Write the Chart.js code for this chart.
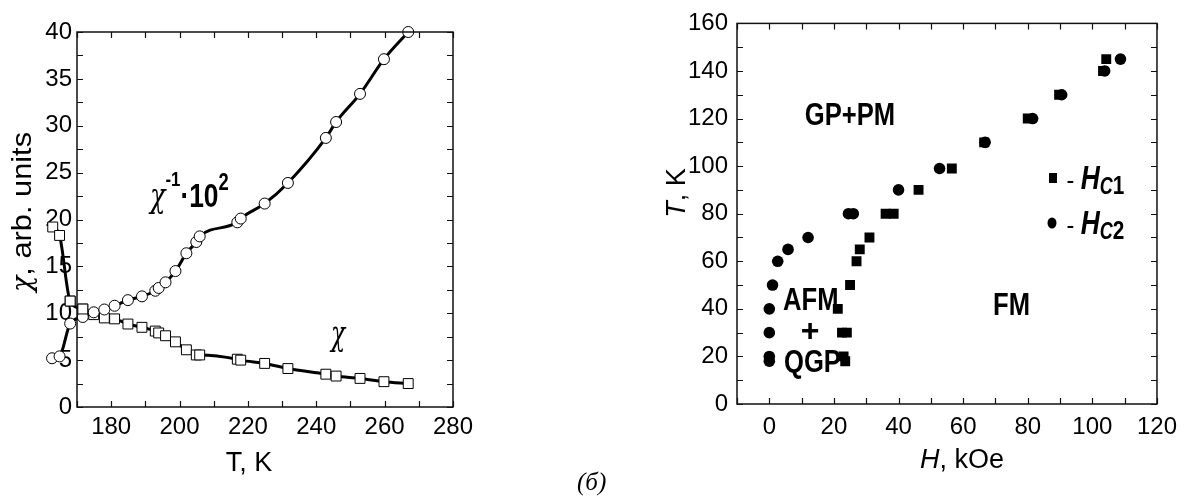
<!DOCTYPE html>
<html>
<head>
<meta charset="utf-8">
<script src="https://cdn.jsdelivr.net/npm/chart.js@4.4.1/dist/chart.umd.min.js"></script>
<style>
  body { margin: 0; background: #fff; width: 1186px; height: 500px; overflow: hidden; position: relative; }
  #left { position: absolute; left: 0; top: 0; }
  #right { position: absolute; left: 600px; top: 0; }
  #cap { position: absolute; left: 577px; top: 468px; font: italic 25px 'Liberation Serif', serif; color: #000; }
</style>
</head>
<body>
<canvas id="left" width="480" height="500"></canvas>
<canvas id="right" width="586" height="500"></canvas>
<div id="cap">(б)</div>
<script>
// левый график: chi^-1*10^2 (кружки) и chi (квадраты) от T
const invT = [162.7, 164.9, 168.0, 171.7, 174.9, 178.0, 181.0, 184.9, 189.0, 192.9, 193.9, 195.9, 198.8, 202.0, 204.9, 205.9, 216.9, 217.9, 224.9, 231.7, 242.8, 245.8, 252.8, 259.8, 266.9];
const invV = [5.2, 5.4, 8.9, 9.6, 10.1, 10.4, 10.8, 11.4, 11.8, 12.4, 12.7, 13.3, 14.5, 16.4, 17.6, 18.2, 19.7, 20.1, 21.7, 23.9, 28.7, 30.4, 33.4, 37.1, 40.0];
const chiT = [162.9, 164.9, 168.0, 171.7, 174.9, 178.0, 181.0, 184.9, 189.0, 192.9, 193.9, 195.9, 198.8, 202.0, 204.9, 205.9, 216.9, 217.9, 224.9, 231.7, 242.8, 245.8, 252.8, 259.8, 266.9];
const chiV = [19.2, 18.3, 11.3, 10.45, 9.85, 9.5, 9.4, 8.85, 8.5, 8.1, 7.9, 7.6, 6.95, 6.1, 5.55, 5.55, 5.1, 5.0, 4.65, 4.1, 3.5, 3.3, 3.05, 2.7, 2.5];

// правый график: фазовая диаграмма T(H)
const hc1H = [21.2, 22.5, 24.0, 23.0, 23.5, 25.0, 27.0, 28.0, 31.0, 36.0, 38.5, 46.2, 56.5, 66.5, 80.0, 89.7, 103.3, 104.3];
const hc1T = [40, 30, 30, 20, 18, 50, 60, 65, 70, 80, 80, 90, 99, 110, 120, 130, 140, 145];
const hc2H = [1.0, 0, 0, 0, 0, 2.6, 5.8, 12.0, 24.5, 26.0, 40.0, 52.7, 66.8, 81.5, 90.5, 103.8, 108.7];
const hc2T = [50, 40, 30, 20, 18, 60, 65, 70, 80, 80, 90, 99, 110, 120, 130, 140, 145];

// подписи осей
const leftXTicks = [180, 200, 220, 240, 260, 280];
const leftYTicks = [0, 5, 10, 15, 20, 25, 30, 35, 40];
const rightXTicks = [0, 20, 40, 60, 80, 100, 120];
const rightYTicks = [0, 20, 40, 60, 80, 100, 120, 140, 160];

const NARROW = "'Liberation Sans Narrow', 'Arial Narrow', 'Liberation Sans', Arial, sans-serif";
const SANS = "'Liberation Sans', Arial, sans-serif";
const CHI = "'DejaVu Serif', 'Liberation Serif', serif";

const pts = (xs, ys) => xs.map((x, i) => ({ x: x, y: ys[i] }));

// рамка и внутренние штрихи
const frameTicks = {
  id: 'frameTicks',
  afterDatasetsDraw(chart, args, o) {
    const { ctx, chartArea: a, scales: { x, y } } = chart;
    ctx.save();
    ctx.strokeStyle = '#111';
    ctx.lineWidth = 1.5;
    ctx.strokeRect(a.left, a.top, a.right - a.left, a.bottom - a.top);
    ctx.lineWidth = 1.2;
    ctx.beginPath();
    for (let v = x.min; v <= x.max + 1e-9; v += o.xStep) {
      const p = Math.round(x.getPixelForValue(v)) + 0.5;
      ctx.moveTo(p, a.bottom); ctx.lineTo(p, a.bottom - o.len);
      ctx.moveTo(p, a.top); ctx.lineTo(p, a.top + o.len);
    }
    for (let v = y.min; v <= y.max + 1e-9; v += o.yStep) {
      const p = Math.round(y.getPixelForValue(v)) + 0.5;
      ctx.moveTo(a.left, p); ctx.lineTo(a.left + o.len, p);
      ctx.moveTo(a.right, p); ctx.lineTo(a.right - o.len, p);
    }
    ctx.stroke();
    ctx.restore();

    // точки левее оси: Chart.js их пропускает, дорисовываем сами элементы
    chart.data.datasets.forEach((ds, i) => {
      chart.getDatasetMeta(i).data.forEach(el => {
        if (el.x < a.left + el.options.radius) el.draw(ctx);
      });
    });
  }
};

// строка из кусков разного шрифта (sx - сжатие по ширине)
function rich(ctx, parts, x, y, align, rot) {
  ctx.save();
  ctx.translate(x, y);
  if (rot) ctx.rotate(rot);
  let w = 0;
  parts.forEach(p => { ctx.font = p.f; w += ctx.measureText(p.t).width * (p.sx || 1); });
  let cx = align === 'center' ? -w / 2 : 0;
  ctx.fillStyle = '#000';
  ctx.textBaseline = 'alphabetic';
  parts.forEach(p => {
    ctx.font = p.f;
    const sx = p.sx || 1;
    ctx.save();
    ctx.translate(cx, p.dy || 0);
    ctx.scale(sx, 1);
    ctx.fillText(p.t, 0, 0);
    ctx.restore();
    cx += ctx.measureText(p.t).width * sx;
  });
  ctx.restore();
}

const labels = {
  id: 'labels',
  afterDraw(chart, args, o) {
    o.draw(chart.ctx);
  }
};

// min/max задаются после подсчёта данных, чтобы точки за осью не отбрасывались
function axis(ticks, min, max, fit, pad) {
  return {
    type: 'linear', bounds: 'data',
    grid: { display: false, drawTicks: false }, border: { display: false },
    afterDataLimits: s => { s.min = min; s.max = max; },
    afterBuildTicks: s => { s.ticks = ticks.map(v => ({ value: v })); s.min = min; s.max = max; },
    afterFit: fit,
    ticks: { color: '#000', padding: pad, autoSkip: false, maxRotation: 0, font: { family: NARROW, size: 24 } }
  };
}

new Chart(document.getElementById('left'), {
  type: 'scatter',
  data: {
    datasets: [{
      label: 'chi^-1',
      data: pts(invT, invV),
      showLine: true, borderColor: '#000', borderWidth: 3,
      cubicInterpolationMode: 'monotone',
      pointStyle: 'circle', pointRadius: 5.5,
      pointBackgroundColor: '#fff', pointBorderColor: '#000', pointBorderWidth: 1,
      clip: false
    }, {
      label: 'chi',
      data: pts(chiT, chiV),
      showLine: true, borderColor: '#000', borderWidth: 3,
      cubicInterpolationMode: 'monotone',
      pointStyle: 'rect', pointRadius: 7,
      pointBackgroundColor: '#fff', pointBorderColor: '#000', pointBorderWidth: 1,
      clip: false
    }]
  },
  options: {
    responsive: false, animation: false,
    layout: { padding: { top: 32, right: 27, left: 0, bottom: 0 } },
    plugins: {
      legend: { display: false }, tooltip: { enabled: false },
      frameTicks: { xStep: 10, yStep: 2.5, len: 6 },
      labels: {
        draw(ctx) {
          rich(ctx, [
            { t: 'χ', f: 'italic 34px ' + CHI, sx: 0.75 },
            { t: '-1', f: 'bold 21px ' + SANS, dy: -21, sx: 0.8 },
            { t: '·10', f: 'bold 33px ' + SANS, sx: 0.8 },
            { t: '2', f: 'bold 23px ' + SANS, dy: -17, sx: 0.8 }
          ], 150, 207, 'left');
          rich(ctx, [{ t: 'χ', f: 'italic 36px ' + CHI, sx: 0.65 }], 331, 345, 'left');
          rich(ctx, [
            { t: 'χ', f: 'italic 27px ' + CHI, sx: 1.0 },
            { t: ', arb. units', f: '28px ' + SANS, sx: 1.1 }
          ], 31, 212, 'center', -Math.PI / 2);
          rich(ctx, [{ t: 'T, K', f: '27px ' + SANS }], 249, 471, 'center');
        }
      }
    },
    scales: {
      x: axis(leftXTicks, 170, 280, s => { s.height = 93; }, 6),
      y: axis(leftYTicks, 0, 40, s => { s.width = 77; }, 5)
    }
  },
  plugins: [frameTicks, labels]
});

new Chart(document.getElementById('right'), {
  type: 'scatter',
  data: {
    datasets: [{
      label: 'Hc1',
      data: pts(hc1H, hc1T),
      pointStyle: 'rect', pointRadius: 7,
      pointBackgroundColor: '#000', pointBorderColor: '#000', pointBorderWidth: 0
    }, {
      label: 'Hc2',
      data: pts(hc2H, hc2T),
      pointStyle: 'circle', pointRadius: 5.8,
      pointBackgroundColor: '#000', pointBorderColor: '#000', pointBorderWidth: 0
    }]
  },
  options: {
    responsive: false, animation: false,
    layout: { padding: { top: 20, right: 19, left: 0, bottom: 0 } },
    plugins: {
      legend: { display: false }, tooltip: { enabled: false },
      frameTicks: { xStep: 10, yStep: 10, len: 6 },
      labels: {
        draw(ctx) {
          const B = 'bold 32px ' + SANS;
          rich(ctx, [{ t: 'GP+PM', f: B, sx: 0.8 }], 250, 125, 'center');
          rich(ctx, [{ t: 'AFM', f: B, sx: 0.8 }], 183, 310, 'left');
          rich(ctx, [{ t: '+', f: B }], 210, 341, 'center');
          rich(ctx, [{ t: 'QGP', f: B, sx: 0.8 }], 184, 372, 'left');
          rich(ctx, [{ t: 'FM', f: B, sx: 0.8 }], 393, 315, 'left');
          // легенда
          ctx.fillStyle = '#000';
          ctx.fillRect(449, 173, 8, 10);
          ctx.beginPath(); ctx.ellipse(452, 223, 4.5, 5.5, 0, 0, Math.PI * 2); ctx.fill();
          const legend = n => [
            { t: ' - ', f: '26px ' + SANS, sx: 0.9 },
            { t: 'H', f: 'italic bold 33px ' + SANS, sx: 0.8 },
            { t: 'C', f: 'italic bold 24px ' + SANS, dy: 5, sx: 0.75 },
            { t: n, f: 'bold 26px ' + SANS, dy: 5, sx: 0.8 }
          ];
          rich(ctx, legend('1'), 460, 189, 'left');
          rich(ctx, legend('2'), 460, 234, 'left');
          rich(ctx, [{ t: 'T', f: 'italic 27px ' + SANS }, { t: ', K', f: '27px ' + SANS }], 85, 193, 'center', -Math.PI / 2);
          rich(ctx, [{ t: 'H', f: 'italic 27px ' + SANS }, { t: ', kOe', f: '27px ' + SANS }], 362, 468, 'center');
        }
      }
    },
    scales: {
      x: axis(rightXTicks, -10, 120, s => { s.height = 96; }, 9),
      y: axis(rightYTicks, 0, 160, s => { s.width = 137; }, 9)
    }
  },
  plugins: [frameTicks, labels]
});
</script>
</body>
</html>
